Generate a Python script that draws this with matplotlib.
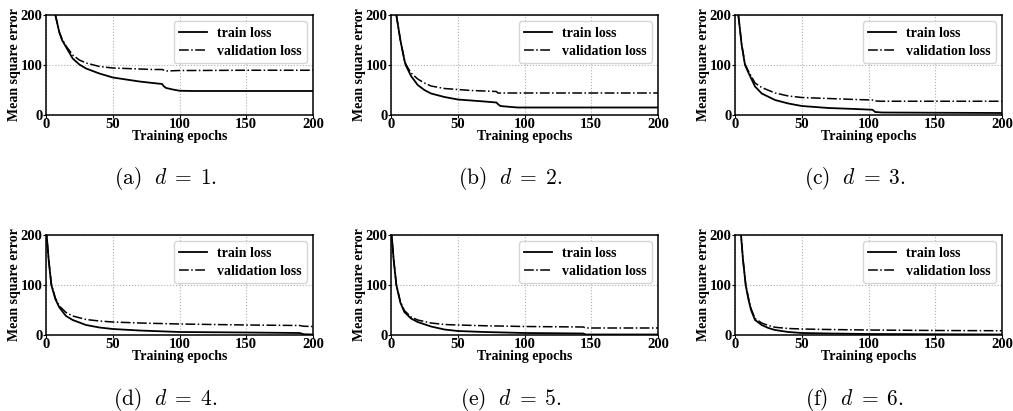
import matplotlib
matplotlib.use("Agg")
from matplotlib import pyplot as plt

plt.rcParams["font.family"] = ["Liberation Serif", "DejaVu Serif"]
plt.rcParams["font.weight"] = "bold"
plt.rcParams["mathtext.fontset"] = "cm"

# (epoch, value), one pair of arrays per panel
ep_a = [0, 5, 7, 10, 12, 15, 20, 25, 30, 40, 50, 60, 70, 80, 87, 88, 90, 95, 100, 110, 150, 200]
train_a = [260, 215, 200, 165, 150, 136, 113, 101, 93, 83, 75, 71, 67, 64, 62, 58, 54, 51, 48.5, 48, 48, 48]
val_a = [260, 215, 200, 166, 152, 138, 120, 110, 104, 97, 94, 93, 92, 91, 91, 90, 88, 88.5, 89, 89, 89.5, 89.5]

ep_b = [0, 4, 7, 10, 11, 15, 20, 25, 30, 40, 50, 60, 70, 79, 80, 82, 90, 95, 100, 150, 200]
train_b = [260, 200, 150, 110, 100, 78, 60, 50, 43, 36, 31, 29, 27, 25, 22, 18, 16, 15, 15, 15, 15]
val_b = [260, 200, 150, 111, 102, 84, 72, 64, 58, 53, 51, 49, 48, 47, 44, 44, 44, 44, 44, 44, 44]

ep_c = [0, 2.5, 5, 7.5, 10, 15, 20, 30, 40, 50, 70, 90, 103, 105, 110, 150, 200]
train_c = [280, 200, 140, 100, 85, 57, 43, 30, 23, 18, 14, 12, 10.5, 6, 5, 4.5, 4]
val_c = [280, 200, 141, 102, 88, 64, 55, 44, 38, 35, 33, 31, 30, 28, 27.5, 27.5, 27.5]

ep_d = [0, 0.5, 2, 4, 7, 10, 15, 20, 30, 40, 50, 70, 100, 150, 190, 193, 200]
train_d = [215, 200, 150, 100, 72, 55, 38, 30, 20, 15, 12, 9, 6, 5, 4, 1.5, 1]
val_d = [215, 200, 151, 102, 74, 58, 45, 38, 31, 28, 26, 24, 22, 20, 19, 17.5, 17]

ep_e = [0, 0.5, 2, 4, 7, 10, 15, 20, 30, 40, 50, 70, 100, 144, 146, 200]
train_e = [215, 200, 150, 100, 65, 46, 33, 26, 17, 11, 8, 6, 4, 3, 1, 1]
val_e = [215, 200, 151, 101, 67, 49, 36, 30, 24, 21, 20, 18.5, 17, 16, 14, 14]

ep_f = [0, 3, 4.5, 6, 8, 10, 12, 15, 20, 25, 30, 40, 50, 70, 100, 150, 200]
train_f = [280, 230, 200, 150, 100, 72, 50, 30, 20, 14, 10, 6, 4, 3, 2, 1.5, 1]
val_f = [280, 230, 200, 151, 102, 75, 53, 33, 24, 19, 15.5, 13, 12, 11, 10, 9, 8.5]

letters = ["a", "b", "c", "d", "e", "f"]
panels = [(ep_a, train_a, val_a), (ep_b, train_b, val_b), (ep_c, train_c, val_c),
          (ep_d, train_d, val_d), (ep_e, train_e, val_e), (ep_f, train_f, val_f)]

W, H = 1013, 411
lefts = [46, 391, 735]
bottoms = [115, 335]
aw, ah = 267, 100
fs = 10

fig = plt.figure(figsize=(W / 100, H / 100), dpi=100)

for i, (ep, tr, va) in enumerate(panels):
    r, c = divmod(i, 3)
    ax = fig.add_axes([lefts[c] / W, (H - bottoms[r]) / H, aw / W, ah / H])
    ax.plot(ep, tr, color="black", lw=1.3, label="train loss")
    ax.plot(ep, va, color="black", lw=1.1, ls="-.", label="validation loss")
    ax.set_xlim(0, 200)
    ax.set_ylim(0, 200)
    ax.set_xticks([0, 50, 100, 150, 200])
    ax.set_yticks([0, 100, 200])
    ax.grid(True, ls=":", color="#b0b0b0", lw=0.8)
    ax.tick_params(labelsize=fs + 0.5, length=2, pad=0.5)
    for lab in ax.get_xticklabels() + ax.get_yticklabels():
        lab.set_fontweight("bold")
    for sp in ax.spines.values():
        sp.set_linewidth(1.1)
    ax.set_xlabel("Training epochs", fontsize=fs, fontweight="bold", labelpad=-1)
    ax.set_ylabel("Mean square error", fontsize=fs, fontweight="bold", labelpad=0)
    ax.legend(loc="upper right", handlelength=2.0, handletextpad=0.7,
              labelspacing=0.35, borderpad=0.4, borderaxespad=0.45,
              prop={"weight": "bold", "size": fs})
    cap = r"$\mathrm{(%s)}\ \ d\;=\;%d.$" % (letters[i], i + 1)
    cx = (lefts[c] + aw / 2 - 14) / W
    cy = (H - (178 if r == 0 else 399)) / H
    fig.text(cx, cy, cap, fontsize=15.5, ha="center", va="center")

fig.savefig("out.png", dpi=100)
